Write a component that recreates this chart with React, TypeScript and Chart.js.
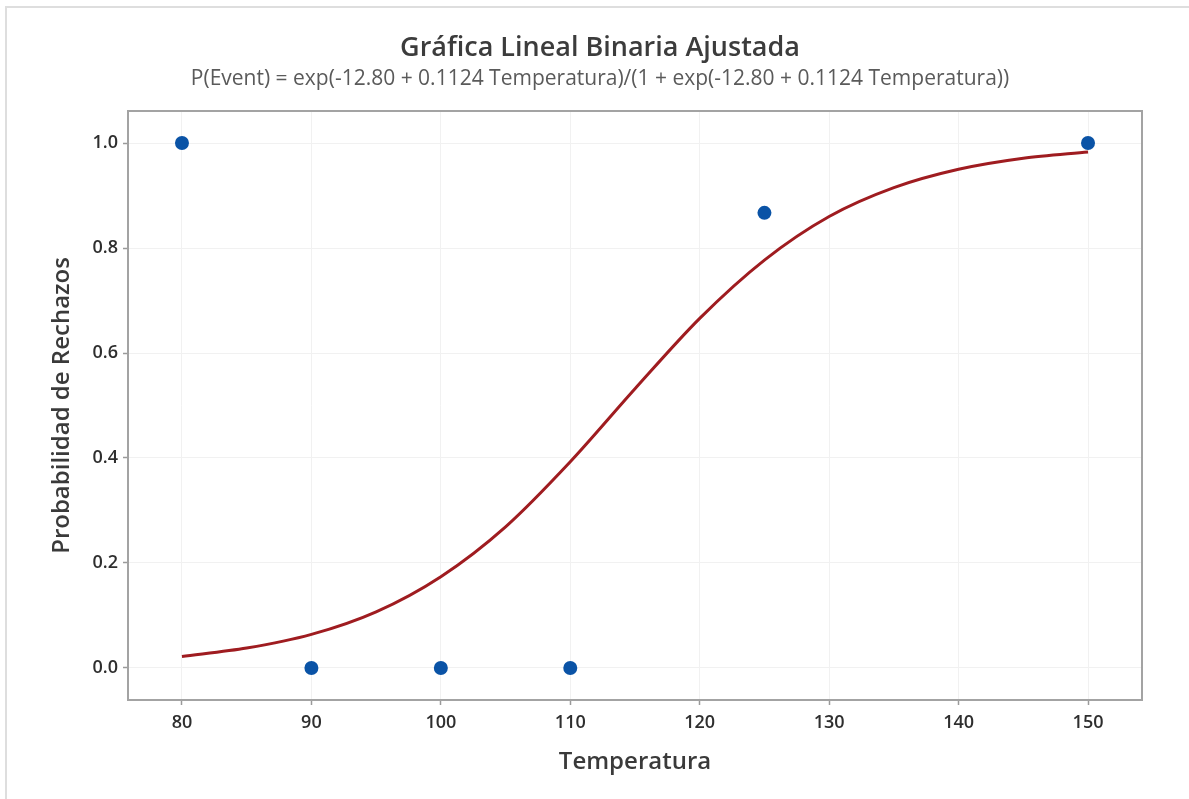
import { useEffect, useRef } from 'react';
import { Chart, registerables } from 'chart.js';

Chart.register(...registerables);

// Observed data
const temperaturas = [80, 90, 100, 110, 125, 150];
const probObservada = [1.0, 0.0, 0.0, 0.0, 0.867, 1.0];

// Fitted curve
const curvaTemp = [80, 85, 90, 95, 100, 105, 110, 115, 120, 125, 130, 135, 140, 145, 150];
const curvaProb = [0.022, 0.038, 0.064, 0.107, 0.174, 0.269, 0.393, 0.532, 0.666, 0.777, 0.86, 0.915, 0.95, 0.971, 0.983];

// Axis ticks
const xTicks = [80, 90, 100, 110, 120, 130, 140, 150];
const yTicks = [0.0, 0.2, 0.4, 0.6, 0.8, 1.0];

const titulo = 'Gráfica Lineal Binaria Ajustada';
const subtitulo = 'P(Event) = exp(-12.80 + 0.1124 Temperatura)/(1 + exp(-12.80 + 0.1124 Temperatura))';
const tituloX = 'Temperatura';
const tituloY = 'Probabilidad de Rechazos';

const FONT = "'Open Sans', 'Noto Sans', sans-serif";

const framePlugin = {
  id: 'framePlugin',
  beforeDraw(chart: any) {
    const ctx = chart.ctx;
    ctx.save();
    ctx.fillStyle = '#ffffff';
    ctx.fillRect(0, 0, chart.width, chart.height);
    ctx.strokeStyle = '#dedede';
    ctx.lineWidth = 2;
    ctx.beginPath();
    ctx.moveTo(6, chart.height);
    ctx.lineTo(6, 7);
    ctx.lineTo(chart.width, 7);
    ctx.stroke();
    ctx.restore();
  },
  beforeDatasetsDraw(chart: any) {
    const { ctx, chartArea } = chart;
    ctx.save();
    ctx.strokeStyle = '#a3a3a3';
    ctx.lineWidth = 2;
    ctx.strokeRect(chartArea.left, chartArea.top, chartArea.right - chartArea.left, chartArea.bottom - chartArea.top);
    ctx.restore();
  },
};

export default function App() {
  const ref = useRef<HTMLCanvasElement | null>(null);

  useEffect(() => {
    if (!ref.current) return;
    const chart = new Chart(ref.current, {
      type: 'line',
      data: {
        datasets: [
          {
            type: 'scatter',
            label: 'Observado',
            data: temperaturas.map((t, i) => ({ x: t, y: probObservada[i] })),
            backgroundColor: '#0a53a6',
            borderColor: '#0a53a6',
            pointRadius: 7,
            pointBorderWidth: 0,
            showLine: false,
            order: 0,
          },
          {
            type: 'line',
            label: 'Ajuste',
            data: curvaTemp.map((t, i) => ({ x: t, y: curvaProb[i] })),
            borderColor: '#9f1c20',
            borderWidth: 3,
            pointRadius: 0,
            tension: 0.3,
            fill: false,
            order: 1,
          },
        ],
      },
      options: {
        responsive: false,
        devicePixelRatio: 1,
        animation: false,
        layout: { padding: { top: 0, left: 58, right: 47, bottom: 24 } },
        plugins: {
          legend: { display: false },
          tooltip: { enabled: false },
          title: {
            display: true,
            text: titulo,
            color: '#3c3c3c',
            font: { family: FONT, size: 27, weight: '600' },
            padding: { top: 31.8, bottom: 0 },
          },
          subtitle: {
            display: true,
            text: subtitulo,
            color: '#5a5a5a',
            font: { family: FONT, size: 21, weight: 'normal' },
            padding: { top: 2.2, bottom: 19.4 },
          },
        },
        scales: {
          x: {
            type: 'linear',
            min: 75.83,
            max: 154.17,
            afterBuildTicks: (s: any) => {
              s.ticks = xTicks.map((v) => ({ value: v }));
            },
            afterFit: (s: any) => {
              s.height = 75;
            },
            ticks: {
              color: '#2e2e2e',
              font: { family: FONT, size: 18, weight: '600' },
              padding: 7,
              maxRotation: 0,
              callback: (v: any) => String(v),
            },
            grid: { color: '#f1f1f1', tickColor: '#9a9a9a', tickLength: 5, lineWidth: 1, tickWidth: 1.5 },
            border: { display: false },
            title: {
              display: true,
              text: tituloX,
              color: '#3a3a3a',
              font: { family: FONT, size: 24, weight: '600' },
              padding: { top: 0, bottom: -1.4 },
            },
          },
          y: {
            type: 'linear',
            min: -0.061,
            max: 1.061,
            afterBuildTicks: (s: any) => {
              s.ticks = yTicks.map((v) => ({ value: v }));
            },
            afterFit: (s: any) => {
              s.width = 70;
            },
            ticks: {
              color: '#2e2e2e',
              font: { family: FONT, size: 18, weight: '600' },
              padding: 5,
              callback: (v: any) => Number(v).toFixed(1),
            },
            grid: { color: '#f1f1f1', tickColor: '#9a9a9a', tickLength: 5, lineWidth: 1, tickWidth: 1.5 },
            border: { display: false },
            title: {
              display: true,
              text: tituloY,
              color: '#3a3a3a',
              font: { family: FONT, size: 24, weight: '600' },
              padding: { top: -10.4, bottom: 0 },
            },
          },
        },
      },
      plugins: [framePlugin],
    } as any);
    return () => chart.destroy();
  }, []);

  return (
    <canvas
      ref={ref}
      width={1189}
      height={799}
      style={{ position: 'absolute', left: 0, top: 0, width: 1189, height: 799 }}
    />
  );
}
